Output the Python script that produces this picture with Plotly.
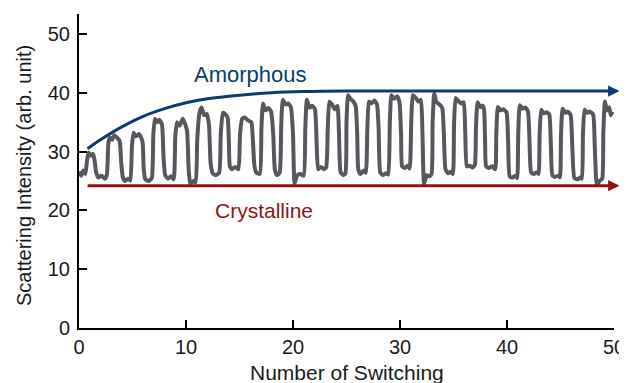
import plotly.graph_objects as go

# Gray measured trace: switching cycles (x = number of switching, y = intensity)
trace_x = [
    0.0, 0.2, 0.4, 0.6, 0.75, 0.9, 1.1, 1.3, 1.45, 1.6, 1.8, 2.1, 2.4, 2.6,
    2.75, 2.9, 3.1, 3.3, 3.6, 3.8, 3.95, 4.1, 4.3, 4.6, 4.8,
    4.95, 5.1, 5.3, 5.6, 5.8, 5.95, 6.05, 6.2, 6.5, 6.8,
    6.95, 7.1, 7.3, 7.5, 7.75, 7.9, 8.05, 8.3, 8.6, 8.85,
    9.0, 9.15, 9.4, 9.7, 9.9, 10.1, 10.25, 10.4, 10.7, 10.9,
    11.05, 11.25, 11.45, 11.7, 11.95, 12.15, 12.3, 12.5, 12.8, 13.1,
    13.25, 13.45, 13.7, 13.9, 14.0, 14.1, 14.3, 14.6, 14.9,
    15.05, 15.25, 15.5, 15.8, 16.1, 16.25, 16.4, 16.6, 16.9,
    17.05, 17.2, 17.45, 17.7, 17.95, 18.15, 18.3, 18.5, 18.75,
    18.9, 19.05, 19.3, 19.55, 19.8, 20.0, 20.15, 20.4, 20.7, 21.0,
    21.15, 21.3, 21.55, 21.8, 22.05, 22.2, 22.35, 22.6, 22.9, 23.1,
    23.25, 23.4, 23.65, 23.9, 24.15, 24.3, 24.45, 24.7, 24.9,
    25.0, 25.15, 25.35, 25.6, 25.85, 26.0, 26.1, 26.3, 26.6, 26.8,
    26.95, 27.1, 27.35, 27.6, 27.85, 28.0, 28.15, 28.4, 28.7, 28.9,
    29.05, 29.2, 29.45, 29.75, 29.95, 30.1, 30.2, 30.45, 30.7, 30.9,
    31.05, 31.2, 31.45, 31.7, 31.95, 32.1, 32.25, 32.5, 32.75, 32.95,
    33.05, 33.2, 33.4, 33.7, 33.95, 34.1, 34.25, 34.5, 34.8, 34.95,
    35.05, 35.2, 35.45, 35.7, 35.95, 36.1, 36.25, 36.5, 36.8, 37.0,
    37.1, 37.25, 37.5, 37.7, 37.85, 37.95, 38.05, 38.3, 38.6, 38.9,
    39.0, 39.15, 39.4, 39.65, 39.95, 40.1, 40.25, 40.5, 40.8, 40.95,
    41.05, 41.2, 41.45, 41.7, 41.95, 42.1, 42.25, 42.5, 42.8, 42.95,
    43.05, 43.2, 43.45, 43.7, 43.95, 44.1, 44.25, 44.5, 44.8, 44.95,
    45.05, 45.2, 45.45, 45.7, 45.95, 46.1, 46.3, 46.6, 46.85, 47.0,
    47.1, 47.25, 47.5, 47.75, 48.05, 48.2, 48.4, 48.65, 48.9,
    49.0, 49.15, 49.35, 49.55, 49.7, 49.85,
]
trace_y = [
    26.6, 25.9, 26.8, 26.2, 28.5, 29.8, 29.3, 29.6, 28.6, 26.5, 25.6, 25.9, 25.4, 26.0,
    31.5, 32.4, 32.0, 32.8, 32.3, 31.8, 28.0, 25.6, 25.0, 25.4, 25.1,
    31.0, 33.2, 32.6, 33.0, 32.4, 31.5, 27.0, 25.3, 25.0, 25.5,
    33.0, 35.6, 35.0, 35.4, 34.6, 29.0, 26.0, 25.4, 25.8, 25.3,
    32.5, 35.0, 34.4, 35.6, 34.8, 33.5, 27.0, 24.5, 25.0, 24.8,
    32.0, 36.5, 37.5, 36.2, 36.4, 34.5, 28.0, 26.3, 26.0, 26.4,
    33.0, 36.6, 36.3, 35.7, 32.0, 27.5, 27.0, 27.4, 27.0,
    33.0, 35.6, 35.8, 35.3, 35.0, 32.0, 27.5, 26.4, 26.2,
    34.0, 38.2, 37.0, 37.4, 36.8, 33.0, 27.0, 26.0, 26.4,
    34.5, 38.8, 38.0, 38.2, 37.6, 33.0, 24.6, 26.0, 26.2, 25.9,
    34.0, 38.8, 37.5, 37.8, 37.2, 32.0, 27.0, 27.4, 27.0, 27.3,
    34.0, 38.5, 38.0, 37.2, 37.8, 33.0, 26.5, 26.0, 26.3,
    35.0, 39.6, 39.0, 38.6, 37.8, 33.0, 27.0, 26.2, 26.8, 26.4,
    34.0, 38.5, 38.2, 38.7, 38.0, 34.0, 26.5, 26.0, 26.3, 26.1,
    35.0, 39.6, 39.0, 39.4, 38.4, 33.0, 27.5, 27.2, 27.6, 27.1,
    35.0, 39.6, 39.2, 38.5, 38.8, 33.0, 24.6, 26.0, 25.8, 26.2,
    35.0, 39.9, 38.4, 38.0, 37.4, 33.0, 27.0, 26.3, 26.6, 26.2,
    34.5, 39.1, 38.6, 38.2, 38.4, 33.0, 27.5, 27.6, 27.3, 27.8,
    34.0, 38.4, 37.6, 37.8, 37.2, 32.0, 27.5, 27.2, 27.5, 27.0,
    33.0, 37.6, 37.0, 37.2, 36.7, 32.0, 25.8, 25.6, 25.9, 25.5,
    33.0, 37.9, 37.3, 37.5, 36.9, 32.0, 26.5, 26.2, 26.5, 26.2,
    33.0, 37.1, 36.5, 36.7, 36.3, 31.0, 25.9, 25.7, 25.9, 25.6,
    33.0, 37.3, 36.6, 36.8, 36.2, 31.0, 25.5, 25.3, 25.6, 25.4,
    33.0, 37.1, 36.6, 36.8, 36.3, 31.0, 24.3, 25.0, 25.4,
    33.0, 38.5, 37.0, 37.5, 36.2, 36.8,
]

# Amorphous envelope (blue) and crystalline level (red)
amor_x = [0.8, 2, 4, 6, 8, 10, 12, 15, 18, 21, 25, 30, 40, 50.0]
amor_y = [30.5, 32.0, 34.2, 36.0, 37.3, 38.3, 39.0, 39.6, 40.0, 40.2, 40.3, 40.3, 40.3, 40.3]
cryst_x = [0.8, 50.0]
cryst_y = [24.2, 24.2]

x_ticks = [0, 10, 20, 30, 40, 50]
y_ticks = [0, 10, 20, 30, 40, 50]

BLUE = "#0c3b6e"
RED = "#8b1516"
GRAY = "#56585e"
FONT = "Liberation Sans, Arial, sans-serif"

fig = go.Figure()
fig.add_trace(go.Scatter(x=trace_x, y=trace_y, mode="lines",
                         line=dict(color=GRAY, width=4, shape="spline", smoothing=0.5),
                         cliponaxis=False, hoverinfo="skip", showlegend=False))
fig.add_trace(go.Scatter(x=amor_x, y=amor_y, mode="lines",
                         line=dict(color=BLUE, width=3, shape="spline"),
                         cliponaxis=False, showlegend=False))
fig.add_trace(go.Scatter(x=cryst_x, y=cryst_y, mode="lines",
                         line=dict(color=RED, width=3), cliponaxis=False,
                         showlegend=False))

# arrow heads
for yy, col in ((amor_y[-1], BLUE), (cryst_y[-1], RED)):
    fig.add_annotation(x=50.5, y=yy, ax=49.5, ay=yy, xref="x", yref="y",
                       axref="x", ayref="y", showarrow=True, arrowhead=2,
                       arrowsize=0.75, arrowwidth=3, arrowcolor=col, text="")

fig.add_annotation(x=16.0, y=43.1, text="Amorphous", showarrow=False,
                   font=dict(family=FONT, size=22, color=BLUE))
fig.add_annotation(x=17.3, y=19.9, text="Crystalline", showarrow=False,
                   font=dict(family=FONT, size=21, color=RED))

# axis titles
fig.add_annotation(x=0.5, y=0, xref="paper", yref="paper", yanchor="middle",
                   yshift=-44, text="Number of Switching", showarrow=False,
                   font=dict(family=FONT, size=21, color="#1a1a1a"))
fig.add_annotation(x=0, y=0.484, xref="paper", yref="paper", xanchor="center",
                   xshift=-55, textangle=-90, text="Scattering Intensity (arb. unit)",
                   showarrow=False, font=dict(family=FONT, size=20, color="#1a1a1a"))

# the page body adds an 8 px offset; margins compensate so the plot area
# lands at page x 79..614, y 14..328
fig.update_layout(
    width=627, height=383,
    margin=dict(l=71, r=21, t=6, b=63, autoexpand=False),
    paper_bgcolor="white", plot_bgcolor="white",
    font=dict(family=FONT, size=20, color="#1a1a1a"),
    showlegend=False,
)
fig.update_xaxes(range=[0, 50], tickvals=x_ticks, ticks="inside", ticklen=8,
                 tickwidth=2, tickcolor="black", showline=True, linecolor="black",
                 linewidth=2, showgrid=False, zeroline=False, automargin=False,
                 tickfont=dict(size=20))
fig.update_yaxes(range=[0, 53.4], tickvals=y_ticks, ticks="inside", ticklen=8,
                 tickwidth=2, tickcolor="black", showline=True, linecolor="black",
                 linewidth=2, showgrid=False, zeroline=False, automargin=False,
                 tickfont=dict(size=20), ticklabelstandoff=3)

fig.write_html("out.html")
